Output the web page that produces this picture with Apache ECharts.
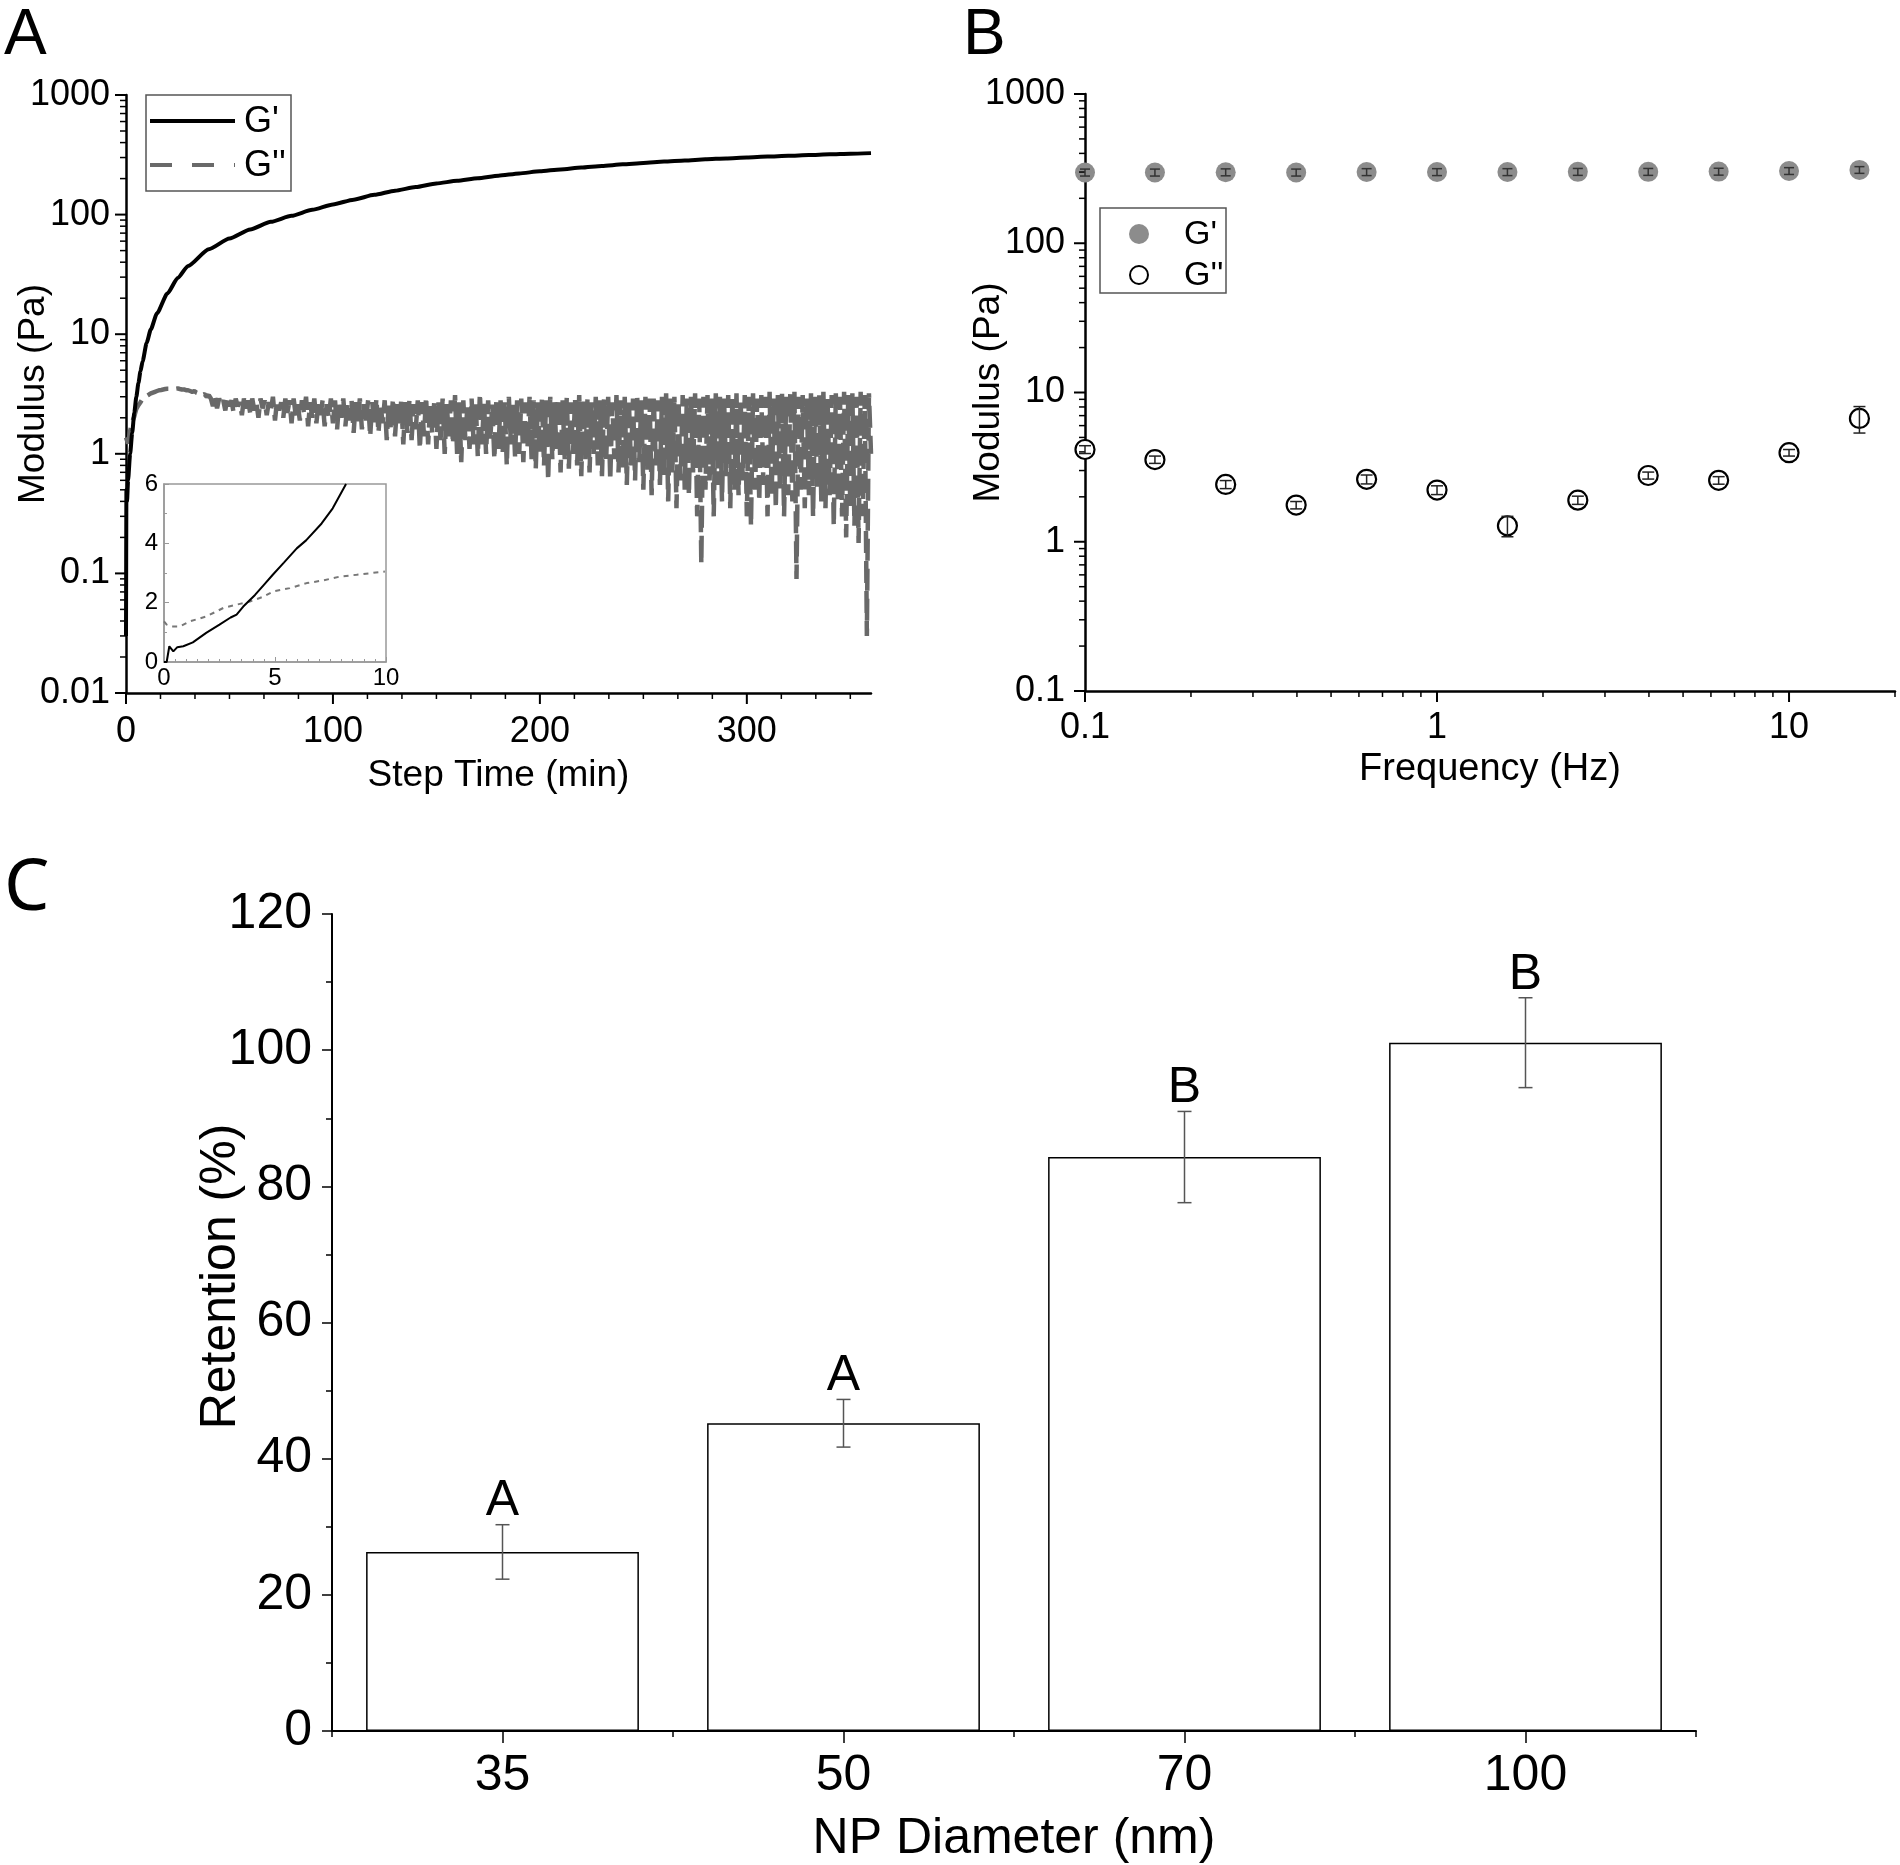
<!DOCTYPE html>
<html><head><meta charset="utf-8">
<script src="https://cdn.jsdelivr.net/npm/echarts/dist/echarts.min.js"></script>
<style>html,body{margin:0;padding:0;background:#fff}#c{width:1900px;height:1865px}</style>
</head><body><div id="c"></div>
<script>
// ---------- Panel A: time sweep (Step Time, min / Modulus, Pa) ----------
const aTime   = [0, 0.2, 0.5, 1, 2, 3, 4, 5, 6, 7, 8, 10, 12, 15, 20, 25, 30, 40, 50, 60, 70, 80, 90, 100, 110, 120, 130, 140, 150, 160, 170, 180, 190, 200,
                 210, 220, 230, 240, 250, 260, 270, 280, 290, 300, 310, 320, 330, 340, 350, 360];
const aGPrime = [0.03, 0.5, 0.4, 0.6, 1.0, 1.5, 2.2, 3.0, 3.9, 4.9, 5.9, 8.5, 11, 15, 21.9, 29.5, 37.2, 51.3, 63.1, 75.0, 87.1, 97.7, 109.6, 121.6, 133.4, 146.2,
                 158.5, 169.8, 182.0, 191.9, 201.8, 211.3, 220.8, 230.1, 238.8, 247.2, 255.3, 263.0, 270.4, 277.3, 283.8, 289.7, 295.1, 300.6,
                 305.5, 310.5, 314.8, 319.2, 322.8, 326.6];
const aGDoubleStep = 1; // minutes between G'' readings
const aGDouble = [
  1.37,1.22,1.55,1.85,2.05,2.38,2.55,2.7,2.88,2.95, 3.05,3.12,3.2,3.25,3.3,3.35,3.4,3.42,3.45,3.48,
  3.5,3.5,3.52,3.5,3.5,3.52,3.48,3.45,3.45,3.4, 3.4,3.35,3.3,3.35,3.25,3.2,3.25,3.1,3.15,3.0, 3.1,
  2.9,2.5,3.0,2.4,2.9,2.6,2.8,2.3,3.0,2.5,
  2.8,2.2,2.9,2.5,2.7,2.1,2.9,2.4,2.8,2.2,
  2.9,2.3,2.7,2.0,2.9,2.4,2.8,2.1,2.7,2.3,
  3.0,1.9,2.8,2.3,2.7,2.0,2.9,2.2,2.8,1.8,
  2.9,2.1,2.6,1.9,2.8,2.2,3.0,1.7,2.7,2.0,
  2.9,1.8,2.7,2.1,2.8,1.7,2.6,2.0,2.9,1.8,
  2.8,1.6,2.7,2.0,2.9,1.7,2.6,1.9,2.8,1.5,
  2.7,1.8,2.9,1.6,2.6,1.9,2.8,1.4,2.7,1.7,
  2.9,1.5,2.6,1.8,2.8,1.3,2.7,1.6,2.9,1.4,
  2.6,1.7,2.8,1.2,2.7,1.5,2.9,1.3,2.6,1.6,
  2.8,1.1,2.7,1.4,3.0,1.2,2.6,1.5,2.8,1.1,
  2.7,1.3,2.9,1.0,2.6,1.4,2.8,1.2,3.1,1.0,
  2.7,0.85,2.8,1.3,2.6,1.1,2.9,1.2,2.7,0.95,
  3.2,1.2,2.7,1.0,2.8,1.3,2.6,0.9,2.9,1.1,
  2.8,1.0,2.7,0.8,3.0,1.2,2.6,0.95,2.8,1.0,
  2.9,0.85,2.7,1.1,3.0,0.9,2.8,0.75,2.7,1.0,
  2.9,0.8,2.8,0.6,3.0,0.9,2.7,1.1,2.9,0.7,
  2.8,0.9,3.0,0.75,2.7,1.0,2.9,0.8,3.1,0.65,
  2.8,0.9,2.9,0.7,2.7,1.0,3.0,0.8,2.8,0.65,
  2.9,0.85,3.0,0.6,2.7,0.9,3.1,0.7,2.8,0.75,
  3.0,0.55,2.8,0.8,2.9,0.6,3.1,0.85,2.8,0.5,
  3.0,0.7,2.9,0.45,3.1,0.8,2.8,0.55,3.0,0.65,
  3.2,0.4,2.9,0.7,3.0,0.35,2.8,0.6,3.1,0.5,
  2.9,0.45,3.0,0.7,3.2,0.3,2.9,0.12,3.0,0.5,
  3.1,0.6,2.9,0.3,3.2,0.55,3.0,0.4,2.9,0.65,
  3.1,0.35,3.0,0.5,3.2,0.45,2.9,0.6,3.1,0.3,
  3.0,0.25,3.2,0.5,2.9,0.4,3.1,0.55,3.0,0.3,
  3.3,0.45,2.9,0.35,3.1,0.5,3.2,0.3,3.0,0.45,
  3.2,0.4,3.3,0.09,3.0,0.5,3.1,0.35,2.9,0.45,
  3.2,0.3,3.0,0.5,3.1,0.4,3.3,0.35,3.0,0.45,
  3.1,0.25,3.2,0.4,3.0,0.3,3.3,0.2,3.1,0.35,
  3.2,0.25,3.0,0.18,3.3,0.3,3.1,0.03,3.2,1.0
];
// inset (first 10 minutes, linear axes)
const insetTimeGp = [0, 0.12, 0.24, 0.42, 0.6, 0.87, 1.3, 1.9, 2.5, 3.0, 3.27, 3.57, 4.1, 4.5, 4.9, 5.4, 5.98, 6.4, 7.1, 7.6, 8.2];
const insetGp     = [0, 0, 0.53, 0.36, 0.5, 0.53, 0.66, 0.98, 1.26, 1.5, 1.6, 1.87, 2.26, 2.6, 2.94, 3.35, 3.83, 4.1, 4.67, 5.18, 6.0];
const insetTimeGpp = [0, 0.12, 0.35, 0.72, 1.17, 1.92, 2.67, 3.42, 3.87, 4.47, 4.92, 5.67, 6.43, 7.18, 7.93, 8.68, 9.95];
const insetGpp     = [1.37, 1.26, 1.2, 1.2, 1.37, 1.54, 1.82, 1.96, 2.04, 2.2, 2.38, 2.49, 2.66, 2.75, 2.88, 2.94, 3.05];
const aYTickLabels = ['0.01','0.1','1','10','100','1000'];

// ---------- Panel B: frequency sweep ----------
const bFreq       = [0.1, 0.158, 0.251, 0.398, 0.631, 1, 1.585, 2.512, 3.981, 6.31, 10, 15.85];
const bGPrime     = [298, 298, 299, 298, 300, 300, 300, 301, 301, 302, 305, 310];
const bGPrimeErr  = [16, 16, 16, 16, 16, 16, 16, 16, 16, 16, 16, 16];
const bGDouble    = [4.15, 3.55, 2.42, 1.76, 2.62, 2.22, 1.28, 1.9, 2.78, 2.58, 3.95, 6.7];
const bGDoubleErr = [0.25, 0.2, 0.15, 0.1, 0.18, 0.15, 0.2, 0.12, 0.15, 0.15, 0.2, 1.35];
const bYTickLabels = ['0.1','1','10','100','1000'];
const bXTickLabels = ['0.1','1','10'];

// ---------- Panel C: retention ----------
const cDiameters = ['35', '50', '70', '100'];
const cRetention = [26.3, 45.2, 84.3, 101.1];
const cRetErr    = [4.0, 3.5, 6.7, 6.6];
const cLetters   = ['A', 'A', 'B', 'B'];

// ---------- helpers ----------
const FONT = '"Liberation Sans", Arial, sans-serif';
function logMinor(lo, hi) { const r = []; for (let e = lo; e < hi; e++) for (let k = 2; k <= 9; k++) r.push(k * Math.pow(10, e)); return r; }
function logMajor(lo, hi) { const r = []; for (let e = lo; e <= hi; e++) r.push(Math.pow(10, e)); return r; }
function decadeLabel(labels, lo) {
  return v => { const e = Math.log10(v); const r = Math.round(e); return Math.abs(e - r) < 1e-6 ? (labels[r - lo] || '') : ''; };
}
function tickSeries(xi, yi, orient, vals, anchor, len, color, width) {
  return {
    type: 'custom', xAxisIndex: xi, yAxisIndex: yi, silent: true, clip: false, z: 5,
    data: vals.map(v => orient === 'y' ? [anchor, v] : [v, anchor]),
    renderItem(params, api) {
      const p = api.coord([api.value(0), api.value(1)]);
      const shape = orient === 'y'
        ? { x1: p[0] - len, y1: p[1], x2: p[0], y2: p[1] }
        : { x1: p[0], y1: p[1], x2: p[0], y2: p[1] + len };
      return { type: 'line', shape, style: { stroke: color, lineWidth: width } };
    }
  };
}
function errSeries(xi, yi, xs, ys, es, cap, color, width, z) {
  return {
    type: 'custom', xAxisIndex: xi, yAxisIndex: yi, silent: true, clip: false, z: z || 6,
    data: xs.map((x, i) => [x, ys[i] - es[i], ys[i] + es[i]]),
    renderItem(params, api) {
      const lo = api.coord([api.value(0), api.value(1)]);
      const hi = api.coord([api.value(0), api.value(2)]);
      const h = cap / 2, st = { stroke: color, lineWidth: width };
      return { type: 'group', children: [
        { type: 'line', shape: { x1: lo[0], y1: lo[1], x2: hi[0], y2: hi[1] }, style: st },
        { type: 'line', shape: { x1: lo[0] - h, y1: lo[1], x2: lo[0] + h, y2: lo[1] }, style: st },
        { type: 'line', shape: { x1: hi[0] - h, y1: hi[1], x2: hi[0] + h, y2: hi[1] }, style: st }
      ]};
    }
  };
}

const aXMajor = [0, 100, 200, 300];
const aXMinor = []; for (let i = 1; i <= 21; i++) { const v = i * 100 / 6; if (i % 6 !== 0 && v <= 360) aXMinor.push(v); }

const gppData = aGDouble.map((v, i) => [i * aGDoubleStep, v]);

const axisLineBlack = { show: true, lineStyle: { color: '#000', width: 2.5 } };
const lblA = { fontFamily: FONT, fontSize: 36, color: '#000' };
const nameA = { fontFamily: FONT, fontSize: 37, color: '#000' };

const option = {
  animation: false,
  backgroundColor: '#fff',
  grid: [
    { left: 126, top: 95, width: 745, height: 598, containLabel: false, outerBoundsMode: 'none' },
    { left: 164, top: 484, width: 222, height: 178, show: true, backgroundColor: '#fff', borderColor: '#999', borderWidth: 1.5, containLabel: false, outerBoundsMode: 'none' },
    { left: 1085, top: 94, width: 810, height: 597, containLabel: false, outerBoundsMode: 'none' },
    { left: 332, top: 914, width: 1364, height: 817, containLabel: false, outerBoundsMode: 'none' }
  ],
  xAxis: [
    { gridIndex: 0, type: 'value', min: 0, max: 360, interval: 100, axisLine: axisLineBlack, axisTick: { show: false }, splitLine: { show: false },
      axisLabel: { ...lblA, margin: 21, formatter: v => (v % 100 === 0 ? String(v) : '') },
      name: 'Step Time (min)', nameLocation: 'middle', nameGap: 64, nameMoveOverlap: false, nameTextStyle: nameA },
    { gridIndex: 1, type: 'value', min: 0, max: 10, interval: 5, axisLine: { show: true, lineStyle: { color: '#999', width: 1.5 } },
      axisTick: { inside: true, length: 5, lineStyle: { color: '#999' } }, minorTick: { show: true, splitNumber: 10, length: 3, lineStyle: { color: '#999' } },
      splitLine: { show: false }, axisLabel: { fontFamily: FONT, fontSize: 24, color: '#000', margin: 4 } },
    { gridIndex: 2, type: 'log', logBase: 10, min: 0.1, max: 20, axisLine: axisLineBlack, axisTick: { show: false }, splitLine: { show: false },
      axisLabel: { ...lblA, margin: 19, formatter: decadeLabel(bXTickLabels, -1) },
      name: 'Frequency (Hz)', nameLocation: 'middle', nameGap: 60, nameMoveOverlap: false, nameTextStyle: { ...nameA, fontSize: 38 } },
    { gridIndex: 3, type: 'category', data: cDiameters, axisLine: { show: true, lineStyle: { color: '#000', width: 2 } },
      axisTick: { show: true, length: 6, lineStyle: { color: '#000', width: 1.5 } },
      axisLabel: { fontFamily: FONT, fontSize: 50, color: '#000', margin: 20 },
      name: 'NP Diameter (nm)', nameLocation: 'middle', nameGap: 83, nameMoveOverlap: false, nameTextStyle: { fontFamily: FONT, fontSize: 50, color: '#000' } },
    { gridIndex: 3, type: 'category', data: cDiameters, position: 'bottom', axisLine: { show: false },
      axisTick: { show: true, alignWithLabel: true, length: 12, lineStyle: { color: '#000', width: 1.5 } },
      axisLabel: { show: false } }
  ],
  yAxis: [
    { gridIndex: 0, type: 'log', logBase: 10, min: 0.01, max: 1000, axisLine: axisLineBlack, axisTick: { show: false }, splitLine: { show: false },
      axisLabel: { ...lblA, margin: 16, formatter: decadeLabel(aYTickLabels, -2) },
      name: 'Modulus (Pa)', nameLocation: 'middle', nameGap: 74, nameRotate: 90, nameMoveOverlap: false, nameTextStyle: nameA },
    { gridIndex: 1, type: 'value', min: 0, max: 6, interval: 2, axisLine: { show: true, lineStyle: { color: '#999', width: 1.5 } },
      axisTick: { inside: true, length: 5, lineStyle: { color: '#999' } }, minorTick: { show: true, splitNumber: 2, length: 3, lineStyle: { color: '#999' } },
      splitLine: { show: false }, axisLabel: { fontFamily: FONT, fontSize: 24, color: '#000', margin: 6 } },
    { gridIndex: 2, type: 'log', logBase: 10, min: 0.1, max: 1000, axisLine: axisLineBlack, axisTick: { show: false }, splitLine: { show: false },
      axisLabel: { ...lblA, margin: 20, formatter: decadeLabel(bYTickLabels, -1) },
      name: 'Modulus (Pa)', nameLocation: 'middle', nameGap: 78, nameRotate: 90, nameMoveOverlap: false, nameTextStyle: nameA },
    { gridIndex: 3, type: 'value', min: 0, max: 120, interval: 20, axisLine: { show: true, lineStyle: { color: '#000', width: 2 } },
      axisTick: { show: true, length: 10, lineStyle: { color: '#000', width: 1.5 } },
      minorTick: { show: true, splitNumber: 2, length: 6, lineStyle: { color: '#000', width: 1.5 } },
      splitLine: { show: false }, axisLabel: { fontFamily: FONT, fontSize: 50, color: '#000', margin: 20 },
      name: 'Retention (%)', nameLocation: 'middle', nameGap: 86, nameRotate: 90, nameMoveOverlap: false,
      nameTextStyle: { fontFamily: FONT, fontSize: 50, color: '#000', padding: [0, 0, 0, 92] } }
  ],
  series: [
    // Panel A
    { type: 'line', xAxisIndex: 0, yAxisIndex: 0, data: gppData, showSymbol: false, symbol: 'none', z: 2,
      lineStyle: { color: '#696969', width: 4.5, type: [22, 8] } },
    { type: 'line', xAxisIndex: 0, yAxisIndex: 0, data: aTime.map((t, i) => [t, aGPrime[i]]), showSymbol: false, symbol: 'none', z: 3,
      smooth: 0.2, smoothMonotone: 'x', lineStyle: { color: '#000', width: 4 } },
    tickSeries(0, 0, 'y', logMajor(-2, 3), 0, 11, '#000', 2),
    tickSeries(0, 0, 'y', logMinor(-2, 3), 0, 6, '#000', 1.5),
    tickSeries(0, 0, 'x', aXMajor, 0.01, 11, '#000', 2),
    tickSeries(0, 0, 'x', aXMinor, 0.01, 6, '#000', 1.5),
    // Inset
    { type: 'line', xAxisIndex: 1, yAxisIndex: 1, data: insetTimeGpp.map((t, i) => [t, insetGpp[i]]), showSymbol: false, symbol: 'none', z: 4,
      lineStyle: { color: '#777', width: 2, type: [5, 5] } },
    { type: 'line', xAxisIndex: 1, yAxisIndex: 1, data: insetTimeGp.map((t, i) => [t, insetGp[i]]), showSymbol: false, symbol: 'none', z: 4,
      lineStyle: { color: '#000', width: 2 } },
    // Panel B
    { type: 'scatter', xAxisIndex: 2, yAxisIndex: 2, data: bFreq.map((f, i) => [f, bGPrime[i]]), symbol: 'circle', symbolSize: 20, z: 3,
      itemStyle: { color: '#8c8c8c', opacity: 1 } },
    { type: 'scatter', xAxisIndex: 2, yAxisIndex: 2, data: bFreq.map((f, i) => [f, bGDouble[i]]), symbol: 'circle', symbolSize: 19, z: 3,
      itemStyle: { color: '#fff', borderColor: '#000', borderWidth: 2.2, opacity: 1 } },
    errSeries(2, 2, bFreq, bGPrime, bGPrimeErr, 10, '#333', 1.5, 6),
    errSeries(2, 2, bFreq, bGDouble, bGDoubleErr, 12, '#222', 1.5, 6),
    tickSeries(2, 2, 'y', logMajor(-1, 3), 0.1, 11, '#000', 2),
    tickSeries(2, 2, 'y', logMinor(-1, 3), 0.1, 6, '#000', 1.5),
    tickSeries(2, 2, 'x', logMajor(-1, 1), 0.1, 11, '#000', 2),
    tickSeries(2, 2, 'x', logMinor(-1, 1).concat([20]), 0.1, 6, '#000', 1.5),
    // Panel C
    { type: 'bar', xAxisIndex: 3, yAxisIndex: 3, data: cRetention, barWidth: '80%', z: 2,
      itemStyle: { color: '#fff', borderColor: '#000', borderWidth: 1.5 } },
    errSeries(3, 3, cRetention.map((_, i) => i), cRetention, cRetErr, 14, '#555', 1.5, 6),
    { type: 'custom', xAxisIndex: 3, yAxisIndex: 3, silent: true, z: 7,
      data: cRetention.map((v, i) => [i, v + cRetErr[i]]),
      renderItem(params, api) {
        const p = api.coord([api.value(0), api.value(1)]);
        return { type: 'text', style: { text: cLetters[params.dataIndex], x: p[0], y: p[1] + 2, align: 'center', verticalAlign: 'bottom',
          font: '50px ' + FONT, fill: '#000' } };
      } }
  ],
  graphic: [
    { type: 'text', left: 4, top: 4, style: { text: 'A', font: '64px ' + FONT, fill: '#000' } },
    { type: 'text', left: 963, top: 4, style: { text: 'B', font: '64px ' + FONT, fill: '#000' } },
    { type: 'text', left: 4, top: 853, style: { text: 'C', font: '72px "Noto Sans", "DejaVu Sans", sans-serif', fill: '#000' } },
    // legend A
    { type: 'rect', shape: { x: 146, y: 95, width: 145, height: 96 }, style: { fill: '#fff', stroke: '#555', lineWidth: 1.5 }, z: 10 },
    { type: 'line', shape: { x1: 150, y1: 121, x2: 235, y2: 121 }, style: { stroke: '#000', lineWidth: 4 }, z: 11 },
    { type: 'line', shape: { x1: 150, y1: 165, x2: 235, y2: 165 }, style: { stroke: '#696969', lineWidth: 4, lineDash: [22, 20] }, z: 11 },
    { type: 'text', x: 244, y: 122, style: { text: "G'", font: '36px ' + FONT, fill: '#000', verticalAlign: 'middle' }, z: 11 },
    { type: 'text', x: 244, y: 166, style: { text: "G''", font: '36px ' + FONT, fill: '#000', verticalAlign: 'middle' }, z: 11 },
    // legend B
    { type: 'rect', shape: { x: 1100, y: 208, width: 126, height: 85 }, style: { fill: '#fff', stroke: '#555', lineWidth: 1.5 }, z: 10 },
    { type: 'circle', shape: { cx: 1139, cy: 234, r: 10 }, style: { fill: '#8c8c8c' }, z: 11 },
    { type: 'circle', shape: { cx: 1139, cy: 275, r: 9 }, style: { fill: '#fff', stroke: '#000', lineWidth: 2 }, z: 11 },
    { type: 'text', x: 1184, y: 235, style: { text: "G'", font: '34px ' + FONT, fill: '#000', verticalAlign: 'middle' }, z: 11 },
    { type: 'text', x: 1184, y: 276, style: { text: "G''", font: '34px ' + FONT, fill: '#000', verticalAlign: 'middle' }, z: 11 }
  ]
};
const chart = echarts.init(document.getElementById('c'), null, { renderer: 'canvas', width: 1900, height: 1865 });
chart.setOption(option);
</script></body></html>
